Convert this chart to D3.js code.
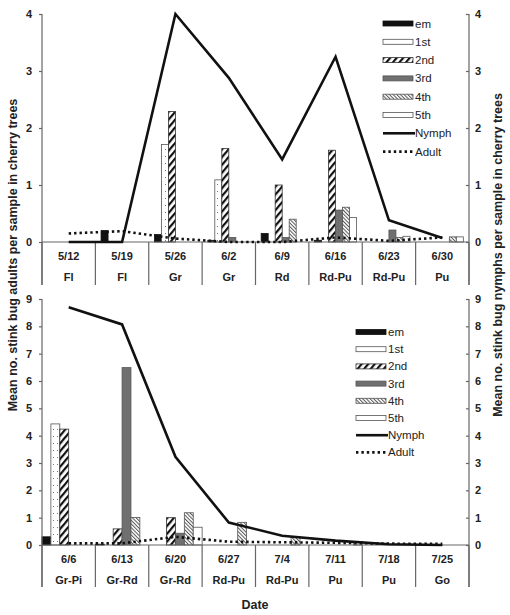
<!DOCTYPE html>
<html><head><meta charset="utf-8">
<script src="https://cdn.jsdelivr.net/npm/d3@7"></script>
<style>body{margin:0;background:#fff}svg{display:block;font-family:"Liberation Sans",Arial,sans-serif}</style>
</head><body><svg id="c" width="510" height="615"></svg>
<script>
// ---------- data ----------
const stages = ["em","1st","2nd","3rd","4th","5th"];
const dates1 = ["5/12","5/19","5/26","6/2","6/9","6/16","6/23","6/30"];
const phen1  = ["Fl","Fl","Gr","Gr","Rd","Rd-Pu","Rd-Pu","Pu"];
const em1    = [0,0.2,0.13,0.03,0.15,0.03,0,0];
const first1 = [0,0,1.71,1.09,0,0,0,0];
const second1= [0,0,2.29,1.64,1.0,1.61,0,0];
const third1 = [0,0,0,0.08,0.08,0.56,0.21,0];
const fourth1= [0,0,0,0,0.4,0.61,0.08,0.09];
const fifth1 = [0,0,0,0,0,0.43,0.1,0.09];
const nymph1 = [0,0,4.0,2.88,1.45,3.25,0.38,0.07];
const adult1 = [0.15,0.19,0.06,0,0,0.08,0.02,0.08];
const ticks1 = [0,1,2,3,4];

const dates2 = ["6/6","6/13","6/20","6/27","7/4","7/11","7/18","7/25"];
const phen2  = ["Gr-Pi","Gr-Rd","Gr-Rd","Rd-Pu","Rd-Pu","Pu","Pu","Go"];
const em2    = [0.3,0.03,0,0,0,0,0,0];
const first2 = [4.43,0,0,0,0,0,0,0];
const second2= [4.24,0.59,1.0,0,0,0,0,0];
const third2 = [0,6.49,0.43,0,0,0,0,0];
const fourth2= [0,1.01,1.18,0.83,0.3,0,0,0];
const fifth2 = [0,0,0.65,0,0,0.13,0,0];
const nymph2 = [8.7,8.07,3.23,0.82,0.34,0.16,0.03,0];
const adult2 = [0.06,0.06,0.3,0.12,0.1,0.08,0.05,0.04];
const ticks2 = [0,1,2,3,4,5,6,7,8,9];

// ---------- drawing ----------
const svg = d3.select("#c");
const defs = svg.append("defs");
// patterns
const p1 = defs.append("pattern").attr("id","pDot").attr("patternUnits","userSpaceOnUse").attr("width",4).attr("height",7);
p1.append("rect").attr("width",4).attr("height",7).attr("fill","#fff");
p1.append("rect").attr("x",1).attr("y",2).attr("width",1).attr("height",1).attr("fill","#777");
const p2 = defs.append("pattern").attr("id","pStripe").attr("patternUnits","userSpaceOnUse").attr("width",5).attr("height",5).attr("patternTransform","rotate(40)");
p2.append("rect").attr("width",5).attr("height",5).attr("fill","#fff");
p2.append("rect").attr("width",2.2).attr("height",5).attr("fill","#111");
const p4 = defs.append("pattern").attr("id","pHatch").attr("patternUnits","userSpaceOnUse").attr("width",2.6).attr("height",3).attr("patternTransform","rotate(-45)");
p4.append("rect").attr("width",2.6).attr("height",3).attr("fill","#fff");
p4.append("rect").attr("width",1).attr("height",3).attr("fill","#555");

const fills = {"em":"#111","1st":"url(#pDot)","2nd":"url(#pStripe)","3rd":"#707070","4th":"url(#pHatch)","5th":"#fff"};
const strokes = {"em":"#111","1st":"#555","2nd":"#333","3rd":"#555","4th":"#555","5th":"#555"};
const axisCol = "#666";
const left = 42, right = 469;

function panel(cfg){
  const x = d3.scaleBand().domain(cfg.dates).range([left,right]).padding(0);
  const y = d3.scaleLinear().domain([0,cfg.max]).range([cfg.y0,cfg.yTop]);
  const x1 = d3.scaleBand().domain(stages).range([0,x.bandwidth()]).paddingInner(0).paddingOuter(cfg.outer);
  const g = svg.append("g");
  const series = {"em":cfg.em,"1st":cfg.first,"2nd":cfg.second,"3rd":cfg.third,"4th":cfg.fourth,"5th":cfg.fifth};
  // bars
  stages.forEach(s=>{
    g.selectAll(null).data(cfg.dates.map((d,i)=>({d,v:series[s][i]})).filter(o=>o.v>0))
     .join("rect")
     .attr("x",o=>x(o.d)+x1(s)).attr("width",x1.bandwidth())
     .attr("y",o=>y(o.v)).attr("height",o=>cfg.y0-y(o.v))
     .attr("fill",fills[s]).attr("stroke",strokes[s]).attr("stroke-width",0.8);
  });
  // x axis line & separators
  g.append("line").attr("x1",left).attr("x2",right).attr("y1",cfg.y0).attr("y2",cfg.y0).attr("stroke",axisCol).attr("stroke-width",1.2);
  const seps = cfg.dates.map(d=>x(d)).concat([right]);
  g.selectAll(null).data(seps).join("line")
    .attr("x1",d=>d).attr("x2",d=>d).attr("y1",cfg.y0).attr("y2",cfg.y0+cfg.sepLen)
    .attr("stroke",axisCol).attr("stroke-width",1.2);
  g.selectAll(null).data(cfg.dates).join("text")
    .attr("x",d=>x(d)+x.bandwidth()/2).attr("y",cfg.y0+18).attr("text-anchor","middle")
    .attr("font-size",11).attr("font-weight","bold").attr("fill","#222").text(d=>d);
  g.selectAll(null).data(cfg.phen).join("text")
    .attr("x",(d,i)=>x(cfg.dates[i])+x.bandwidth()/2).attr("y",cfg.y0+39).attr("text-anchor","middle")
    .attr("font-size",11).attr("font-weight","bold").attr("fill","#222").text(d=>d);
  // y axes
  const la = g.append("g").attr("transform",`translate(${left},0)`)
    .call(d3.axisLeft(y).tickValues(cfg.ticks).tickSize(3).tickPadding(7).tickFormat(d3.format("d")));
  const ra = g.append("g").attr("transform",`translate(${right},0)`)
    .call(d3.axisRight(y).tickValues(cfg.ticks).tickSize(-3).tickPadding(6).tickFormat(d3.format("d")));
  [la,ra].forEach(a=>{
    a.select(".domain").remove();
    a.selectAll(".tick line").attr("stroke",axisCol).attr("stroke-width",1.2);
    a.selectAll(".tick text").attr("font-size",11).attr("font-weight","bold").attr("fill","#222")
      .attr("font-family","'Liberation Sans',Arial,sans-serif");
  });
  [left,right].forEach(xx=>g.append("line").attr("x1",xx).attr("x2",xx)
     .attr("y1",cfg.yTop).attr("y2",cfg.y0+cfg.sepLen).attr("stroke",axisCol).attr("stroke-width",1.2));
  // lines
  const cx = d=>x(d)+x.bandwidth()/2;
  const ln = d3.line().x((v,i)=>cx(cfg.dates[i])).y(v=>y(v));
  g.append("path").attr("d",ln(cfg.nymph)).attr("fill","none").attr("stroke","#111").attr("stroke-width",2.6).attr("stroke-linejoin","miter");
  g.append("path").attr("d",ln(cfg.adult)).attr("fill","none").attr("stroke","#111").attr("stroke-width",2.6).attr("stroke-dasharray","2.4,3");
  // legend
  const lg = g.append("g");
  const items = stages.concat(["Nymph","Adult"]);
  items.forEach((s,i)=>{
    const yy = cfg.legY + i*cfg.legStep;
    if(i<6){
      lg.append("rect").attr("x",cfg.legX).attr("y",yy-2.5).attr("width",30).attr("height",5)
        .attr("fill",fills[s]).attr("stroke",strokes[s]).attr("stroke-width",0.8);
    } else if(s==="Nymph"){
      lg.append("line").attr("x1",cfg.legX).attr("x2",cfg.legX+32).attr("y1",yy).attr("y2",yy).attr("stroke","#111").attr("stroke-width",2.6);
    } else {
      lg.append("line").attr("x1",cfg.legX).attr("x2",cfg.legX+30).attr("y1",yy).attr("y2",yy).attr("stroke","#111").attr("stroke-width",2.6).attr("stroke-dasharray","2.4,3");
    }
    lg.append("text").attr("x",cfg.legX+32).attr("y",yy+4).attr("font-size",11.5).attr("fill","#222").text(s);
  });
}

panel({dates:dates1,phen:phen1,em:em1,first:first1,second:second1,third:third1,fourth:fourth1,fifth:fifth1,
  nymph:nymph1,adult:adult1,ticks:ticks1,max:4,y0:242,yTop:14,sepLen:43,outer:0.81,legX:383,legY:23.5,legStep:18.3});
panel({dates:dates2,phen:phen2,em:em2,first:first2,second:second2,third:third2,fourth:fourth2,fifth:fifth2,
  nymph:nymph2,adult:adult2,ticks:ticks2,max:9,y0:545,yTop:299,sepLen:42,outer:0,legX:356,legY:332,legStep:17.2});

// axis titles
svg.append("text").attr("transform","translate(17,255) rotate(-90)").attr("text-anchor","middle")
  .attr("font-size",12.5).attr("font-weight","bold").attr("fill","#222").text("Mean no. stink bug adults per sample in cherry trees");
svg.append("text").attr("transform","translate(502,255) rotate(-90)").attr("text-anchor","middle")
  .attr("font-size",12.5).attr("font-weight","bold").attr("fill","#222").text("Mean no. stink bug nymphs per sample in cherry trees");
svg.append("text").attr("x",255).attr("y",609).attr("text-anchor","middle")
  .attr("font-size",12.5).attr("font-weight","bold").attr("fill","#222").text("Date");
</script></body></html>
